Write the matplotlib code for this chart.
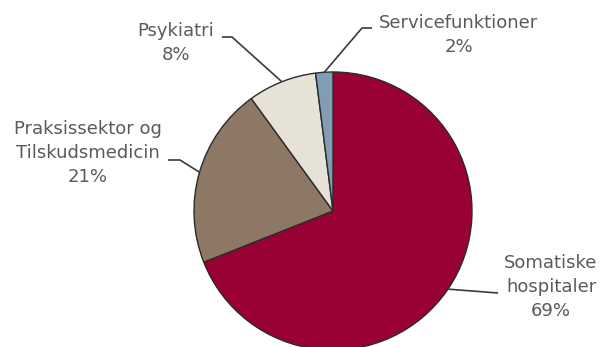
import matplotlib
matplotlib.use('Agg')
import matplotlib.pyplot as plt
import numpy as np

# Expenditure shares by area
categories = ["Somatiske\nhospitaler", "Praksissektor og\nTilskudsmedicin", "Psykiatri", "Servicefunktioner"]
shares = [69, 21, 8, 2]
colors = ["#990033", "#8C7864", "#E6E2D8", "#819DB5"]

W, H = 603, 347


def make_chart(out_path):
    fig = plt.figure(figsize=(W / 100, H / 100), dpi=100)
    ax = fig.add_axes([0, 0, 1, 1])
    ax.set_xlim(0, W)
    ax.set_ylim(0, H)
    ax.axis('off')

    cx, cy, r = 333, H - 211, 139
    wedges, _ = ax.pie(shares, colors=colors, startangle=90, counterclock=False,
                       center=(cx, cy), radius=r, frame=True,
                       wedgeprops=dict(edgecolor="#2b2b2b", linewidth=1.0))
    ax.set_xlim(0, W)
    ax.set_ylim(0, H)
    ax.set_aspect('equal')
    ax.axis('off')

    # label block centre (x, y from top) and elbow points of the leader lines
    label_pos = [(551, 287), (88, 153), (176, 43), (459, 35)]
    elbows = [[(498, 293)],
              [(180, 160), (168, 160)],
              [(232, 37), (222, 37)],
              [(362, 28), (372, 28)]]

    tcol = "#5a5a5a"
    for w, cat, val, (lx, ly), elb in zip(wedges, categories, shares, label_pos, elbows):
        mid = np.deg2rad((w.theta1 + w.theta2) / 2)
        px, py = cx + r * np.cos(mid), cy + r * np.sin(mid)
        xs = [px] + [e[0] for e in elb]
        ys = [py] + [H - e[1] for e in elb]
        ax.plot(xs, ys, color="#3a3a3a", lw=1.2, solid_capstyle='butt')
        ax.text(lx, H - ly, f"{cat}\n{val}%", ha='center', va='center',
                fontsize=13, color=tcol, linespacing=1.45)

    fig.savefig(out_path, facecolor='white')
    plt.close(fig)


if __name__ == '__main__':
    make_chart('out.png')
